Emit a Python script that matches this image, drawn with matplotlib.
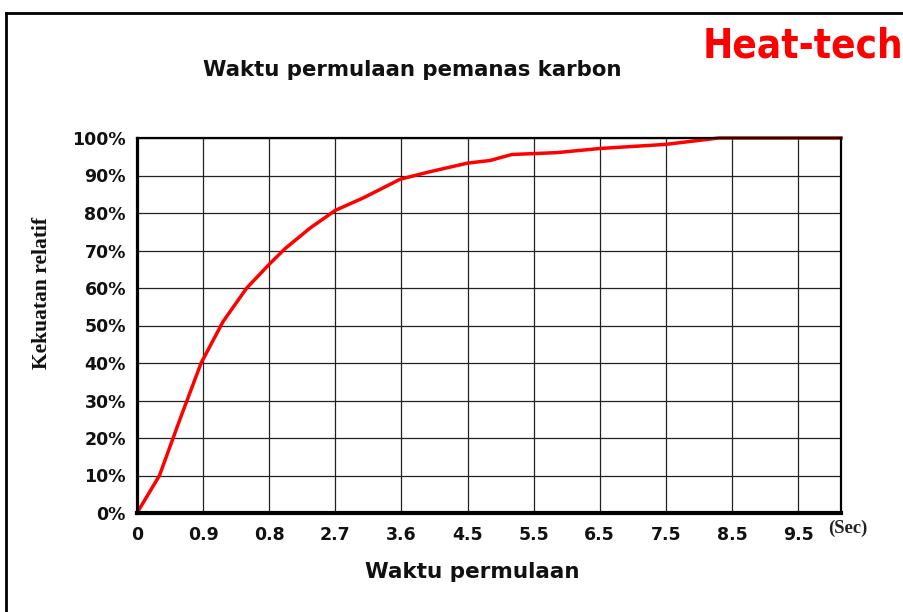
import matplotlib
matplotlib.use("Agg")
import matplotlib.pyplot as plt
from matplotlib.lines import Line2D

# curve; x is in grid columns (one column per tick label)
grid_pos = [0, 0.34, 0.65, 0.97, 1.30, 1.66, 2.01, 2.24, 2.62, 3.0, 3.42,
            3.98, 4.43, 5.0, 5.34, 5.67, 6.35, 7.0, 8.0, 8.8, 10.65]
strength = [0, 10, 25, 40, 51, 60, 66.5, 70.5, 76, 80.7, 84,
            89, 91, 93.3, 94, 95.6, 96.1, 97.2, 98.3, 100, 100]

x_labels = ["0", "0.9", "0.8", "2.7", "3.6", "4.5", "5.5", "6.5", "7.5", "8.5", "9.5"]
y_ticks = list(range(0, 101, 10))
x_end = 10.65

W, H = 904, 612
fig = plt.figure(figsize=(W / 100, H / 100), dpi=100)
ax = fig.add_axes((137 / W, 1 - 513 / H, (841 - 137) / W, (513 - 138) / H))

ax.plot(grid_pos, strength, color="#ff0000", lw=2.5, solid_joinstyle="round", zorder=3, clip_on=False)
ax.set_xlim(0, x_end)
ax.set_ylim(0, 100)

ax.set_xticks(range(len(x_labels)))
ax.set_xticklabels(x_labels)
ax.set_yticks(y_ticks)
ax.set_yticklabels([f"{v}%" for v in y_ticks])
ax.tick_params(length=0, labelsize=12.5, colors="#111111")
ax.tick_params(axis="x", pad=9)
ax.tick_params(axis="y", pad=8)
for lab in ax.get_xticklabels() + ax.get_yticklabels():
    lab.set_fontweight("bold")
ax.grid(True, color="#222222", lw=0.9)

for side, lw in (("left", 2.3), ("bottom", 3.0), ("top", 1.6), ("right", 1.6)):
    ax.spines[side].set_linewidth(lw)
    ax.spines[side].set_color("black")
    ax.spines[side].set_zorder(4)

fig.text(828 / W, 1 - 528 / H, "(Sec)", family="Liberation Serif", fontweight="bold",
         fontsize=13.5, ha="left", va="center", color="#222222")
fig.text(412 / W, 1 - 70 / H, "Waktu permulaan pemanas karbon", fontweight="bold",
         fontsize=15.3, ha="center", va="center", color="#111111")
fig.text(472 / W, 1 - 572 / H, "Waktu permulaan", fontweight="bold",
         fontsize=15.5, ha="center", va="center", color="#111111")
fig.text(42 / W, 1 - 293 / H, "Kekuatan relatif", family="Liberation Serif", fontweight="bold",
         fontsize=15.5, rotation=90, ha="center", va="center", color="#111111")
fig.text(903 / W, 1 - 57 / H, "Heat-tech", family="DejaVu Sans",
         fontstretch="condensed", fontweight="bold", fontsize=29, color="#ff0000",
         ha="right", va="baseline")

# outer frame: top edge and left edge only
fig.add_artist(Line2D([6 / W, 1], [1 - 13 / H, 1 - 13 / H], color="black", lw=2))
fig.add_artist(Line2D([6 / W, 6 / W], [0, 1 - 13 / H], color="black", lw=2))

fig.savefig("out.png", dpi=100)
